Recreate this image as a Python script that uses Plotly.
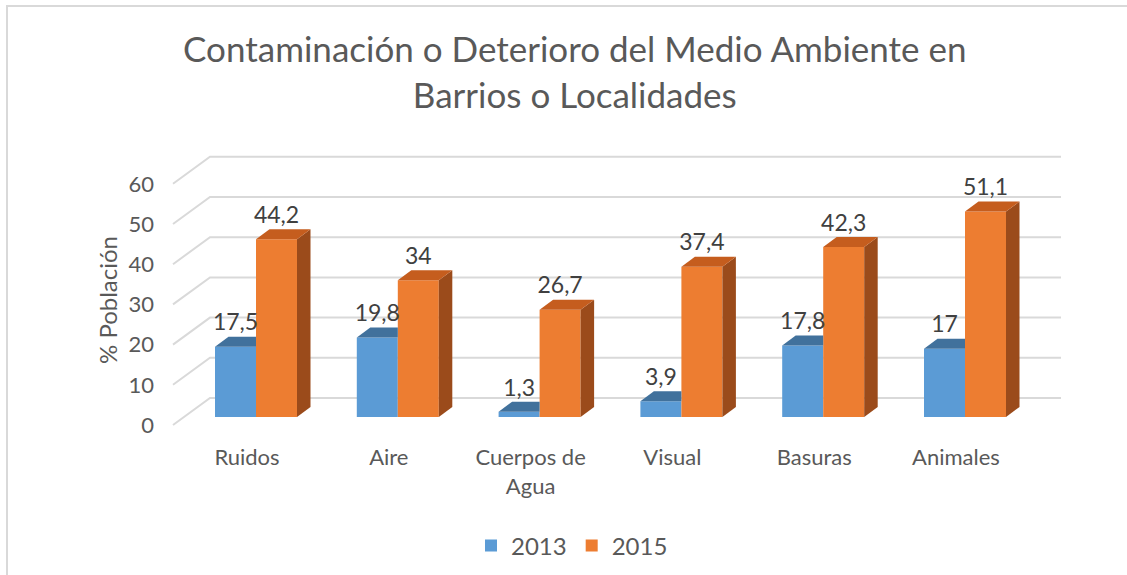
import plotly.graph_objects as go

# ---------------- data ----------------
categories = ["Ruidos", "Aire", "Cuerpos de<br>Agua", "Visual", "Basuras", "Animales"]
years = ["2013", "2015"]
values_2013 = [17.5, 19.8, 1.3, 3.9, 17.8, 17.0]
values_2015 = [44.2, 34.0, 26.7, 37.4, 42.3, 51.1]
labels_2013 = ["17,5", "19,8", "1,3", "3,9", "17,8", "17"]
labels_2015 = ["44,2", "34", "26,7", "37,4", "42,3", "51,1"]
y_ticks = [0, 10, 20, 30, 40, 50, 60]

# ---------------- styling / geometry ----------------
W, H = 1127, 575
FONT = "Lato"
GREY = "#595959"
DARK = "#404040"
GRID = "#d9d9d9"
BLUE, BLUE_TOP = "#5B9BD5", "#41719C"
ORANGE, ORANGE_TOP, ORANGE_SIDE = "#ED7D31", "#C55D1E", "#9B4B1B"

# pixel calibration of the front (bar) plane
X_ORIGIN_PX, X_STEP_PX = 256.0, 141.8     # px of category 0, px per category
Y_ZERO_PX, Y_UNIT_PX = 417.0, 4.02        # px of value 0, px per unit
L, R, T, B = 165, 52, 140, 135            # plot-area margins

def xd(px):
    return (px - X_ORIGIN_PX) / X_STEP_PX

def yd_off(dpx):  # pixel offset (upwards) -> value units
    return dpx / Y_UNIT_PX

x_range = [xd(L), xd(W - R)]
y_range = [(Y_ZERO_PX - (H - B)) / Y_UNIT_PX, (Y_ZERO_PX - T) / Y_UNIT_PX]

def paper_x(px):
    return (px - L) / (W - L - R)

def paper_y(py):
    return ((H - B) - py) / (H - T - B)

BW = 41.0 / X_STEP_PX          # bar width in category units
DX = 13.5 / X_STEP_PX          # depth offset x
DY = yd_off(10.0)              # depth offset y (value units)
FRONT_SHIFT = yd_off(8.0)      # floor front edge is 8px below bar plane
BACK_SHIFT = yd_off(19.0)      # back wall is 19px above bar plane

pos = list(range(len(categories)))
x13 = [p - BW / 2 for p in pos]
x15 = [p + BW / 2 for p in pos]

fig = go.Figure()

# front faces (bars)
fig.add_trace(go.Bar(x=x13, y=values_2013, width=BW, name=years[0],
                     marker=dict(color=BLUE, line=dict(width=0)), hoverinfo="skip"))
fig.add_trace(go.Bar(x=x15, y=values_2015, width=BW, name=years[1],
                     marker=dict(color=ORANGE, line=dict(width=0)), hoverinfo="skip"))

def poly(pts, color):
    xs = [p[0] for p in pts] + [pts[0][0]]
    ys = [p[1] for p in pts] + [pts[0][1]]
    fig.add_trace(go.Scatter(x=xs, y=ys, mode="lines", fill="toself", fillcolor=color,
                             line=dict(width=0, color=color), showlegend=False,
                             hoverinfo="skip"))

for c13, v13, c15, v15 in zip(x13, values_2013, x15, values_2015):
    # blue top face, clipped where the orange front face hides it
    l, r = c13 - BW / 2, c13 + BW / 2
    if v15 >= v13 + DY:
        poly([(l, v13), (r, v13), (r, v13 + DY), (l + DX, v13 + DY)], BLUE_TOP)
    else:
        poly([(l, v13), (r, v13), (r + DX, v13 + DY), (l + DX, v13 + DY)], BLUE_TOP)
    # orange side and top faces
    l2, r2 = c15 - BW / 2, c15 + BW / 2
    poly([(r2, 0), (r2 + DX, DY), (r2 + DX, v15 + DY), (r2, v15)], ORANGE_SIDE)
    poly([(l2, v15), (r2, v15), (r2 + DX, v15 + DY), (l2 + DX, v15 + DY)], ORANGE_TOP)

# data labels
LABEL_UP = yd_off(22.0)
fig.add_trace(go.Scatter(x=x13, y=[v + LABEL_UP for v in values_2013], text=labels_2013,
                         mode="text", textfont=dict(family=FONT, size=23, color=DARK),
                         showlegend=False, hoverinfo="skip"))
fig.add_trace(go.Scatter(x=x15, y=[v + LABEL_UP for v in values_2015], text=labels_2015,
                         mode="text", textfont=dict(family=FONT, size=23, color=DARK),
                         showlegend=False, hoverinfo="skip"))

# perspective gridlines (behind the bars)
gx_front, gx_back, gx_end = xd(173), xd(210), xd(1061)
shapes = []
for v in y_ticks:
    path = (f"M{gx_front},{v - FRONT_SHIFT} L{gx_back},{v + BACK_SHIFT} "
            f"L{gx_end},{v + BACK_SHIFT}")
    shapes.append(dict(type="path", path=path, xref="x", yref="y", layer="below",
                       line=dict(color=GRID, width=2)))
# chart border (only top and left edges are inside the picture)
shapes.append(dict(type="path", xref="paper", yref="paper",
                   path=(f"M{paper_x(7)},{paper_y(H)} L{paper_x(7)},{paper_y(6)} "
                         f"L{paper_x(W)},{paper_y(6)}"),
                   line=dict(color=GRID, width=2), layer="below"))

fig.update_layout(
    width=W, height=H,
    margin=dict(l=L, r=R, t=T, b=B),
    paper_bgcolor="white", plot_bgcolor="white",
    barmode="overlay",
    shapes=shapes,
    font=dict(family=FONT, color=GREY, size=22),
    title=dict(text="Contaminación o Deterioro del Medio Ambiente en<br>Barrios o Localidades",
               x=0.51, xanchor="center", y=1 - 62 / H, yanchor="middle",
               yref="container", font=dict(family=FONT, size=35, color=GREY)),
    xaxis=dict(range=x_range, tickvals=[p - 9 / X_STEP_PX for p in pos], ticktext=categories,
               showgrid=False, zeroline=False, showline=False, ticks="", automargin=False,
               tickfont=dict(family=FONT, size=22, color=GREY), ticklabelstandoff=2),
    yaxis=dict(range=y_range, tickvals=[v - FRONT_SHIFT for v in y_ticks],
               ticktext=[str(v) for v in y_ticks], automargin=False,
               showgrid=False, zeroline=False, showline=False, ticks="",
               tickfont=dict(family=FONT, size=22, color=GREY), ticklabelstandoff=10),
    legend=dict(orientation="h", x=paper_x(572), xanchor="center",
                yref="container", y=1 - 546 / H, yanchor="middle",
                font=dict(family=FONT, size=24, color=GREY), itemwidth=30),
    annotations=[dict(text="% Población", xref="paper", yref="paper",
                      x=paper_x(107), y=paper_y(300), textangle=-90, showarrow=False,
                      xanchor="center", yanchor="middle",
                      font=dict(family=FONT, size=24, color=GREY))],
)

fig.write_html("out.html", config={"displayModeBar": False},
               post_script=("document.body.style.margin='0px';"
                            "document.body.style.overflow='hidden';"
                            "document.documentElement.style.overflow='hidden';"))
